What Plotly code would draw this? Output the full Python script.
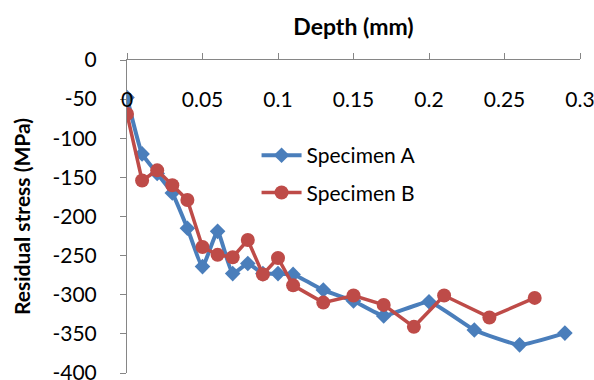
import plotly.graph_objects as go

depth_a = [0, 0.01, 0.02, 0.03, 0.04, 0.05, 0.06, 0.07, 0.08, 0.09, 0.10, 0.11, 0.13, 0.15, 0.17, 0.20, 0.23, 0.26, 0.29]
stress_a = [-48, -120, -145, -170, -215, -264, -219, -273, -260, -273, -273, -274, -294, -308, -327, -309, -345, -364, -349]

depth_b = [0, 0.01, 0.02, 0.03, 0.04, 0.05, 0.06, 0.07, 0.08, 0.09, 0.10, 0.11, 0.13, 0.15, 0.17, 0.19, 0.21, 0.24, 0.27]
stress_b = [-69, -154, -141, -160, -179, -239, -249, -252, -230, -274, -253, -288, -310, -301, -313, -341, -301, -329, -304]

x_ticks = [0, 0.05, 0.1, 0.15, 0.2, 0.25, 0.3]
x_labels = ["0", "0.05", "0.1", "0.15", "0.2", "0.25", "0.3"]
y_ticks = [0, -50, -100, -150, -200, -250, -300, -350, -400]
y_labels = ["0", "-50", "-100", "-150", "-200", "-250", "-300", "-350", "-400"]

FONT = "Lato"
BLUE = "#4A7EBB"
RED = "#BE4B48"
AXIS = "#868686"

fig = go.Figure()
fig.add_trace(go.Scatter(
    x=depth_a, y=stress_a, name="Specimen A", mode="lines+markers",
    legendgroup="a",
    line=dict(color=BLUE, width=4, shape="spline", smoothing=0.4),
    marker=dict(symbol="diamond", size=12, color=BLUE),
))
fig.add_trace(go.Scatter(
    x=depth_b, y=stress_b, name="Specimen B", mode="lines+markers",
    legendgroup="b",
    line=dict(color=RED, width=3.5),
    marker=dict(symbol="circle", size=14, color=RED),
))
# invisible trace so the tick-label axis is drawn
fig.add_trace(go.Scatter(
    x=[x_ticks[0], x_ticks[-1]], y=[y_ticks[0], y_ticks[0]], xaxis="x2", mode="markers",
    marker=dict(opacity=0), showlegend=False, hoverinfo="skip",
))

fig.update_layout(
    width=594, height=380,
    margin=dict(l=127, r=14, t=60, b=7),
    paper_bgcolor="white", plot_bgcolor="white",
    font=dict(family=FONT, size=20, color="#000000"),
    showlegend=True,
    legend=dict(x=0.286, y=0.76, xanchor="left", yanchor="top",
                bgcolor="rgba(0,0,0,0)", font=dict(size=21, family=FONT),
                tracegroupgap=7, itemwidth=40),
    xaxis=dict(
        range=[0, 0.3], side="top", tickvals=x_ticks, showticklabels=False,
        showline=True, linecolor=AXIS, linewidth=1,
        ticks="outside", ticklen=6, tickcolor=AXIS,
        showgrid=False, zeroline=False, automargin=False,
        title=dict(text="<b>Depth (mm)</b>", font=dict(size=23, family=FONT), standoff=10),
    ),
    xaxis2=dict(
        range=[0, 0.3], overlaying="x", anchor="free", position=0.92, side="bottom",
        tickvals=x_ticks, ticktext=x_labels, showline=False, ticks="",
        ticklabeloverflow="allow",
        showgrid=False, zeroline=False, automargin=False,
        tickfont=dict(size=21, family=FONT),
    ),
    yaxis=dict(
        range=[-400, 0], tickvals=y_ticks, ticktext=y_labels,
        showline=True, linecolor=AXIS, linewidth=1,
        ticks="outside", ticklen=6, tickcolor=AXIS,
        ticklabelstandoff=19, ticklabeloverflow="allow",
        showgrid=False, zeroline=False, automargin=False,
        title=dict(text="<b>Residual stress (MPa)</b>", font=dict(size=21, family=FONT), standoff=16),
        tickfont=dict(size=21, family=FONT),
    ),
)

fig.write_html("out.html", config={"displayModeBar": False},
               post_script="document.body.style.margin='0';document.body.style.overflow='hidden';")
